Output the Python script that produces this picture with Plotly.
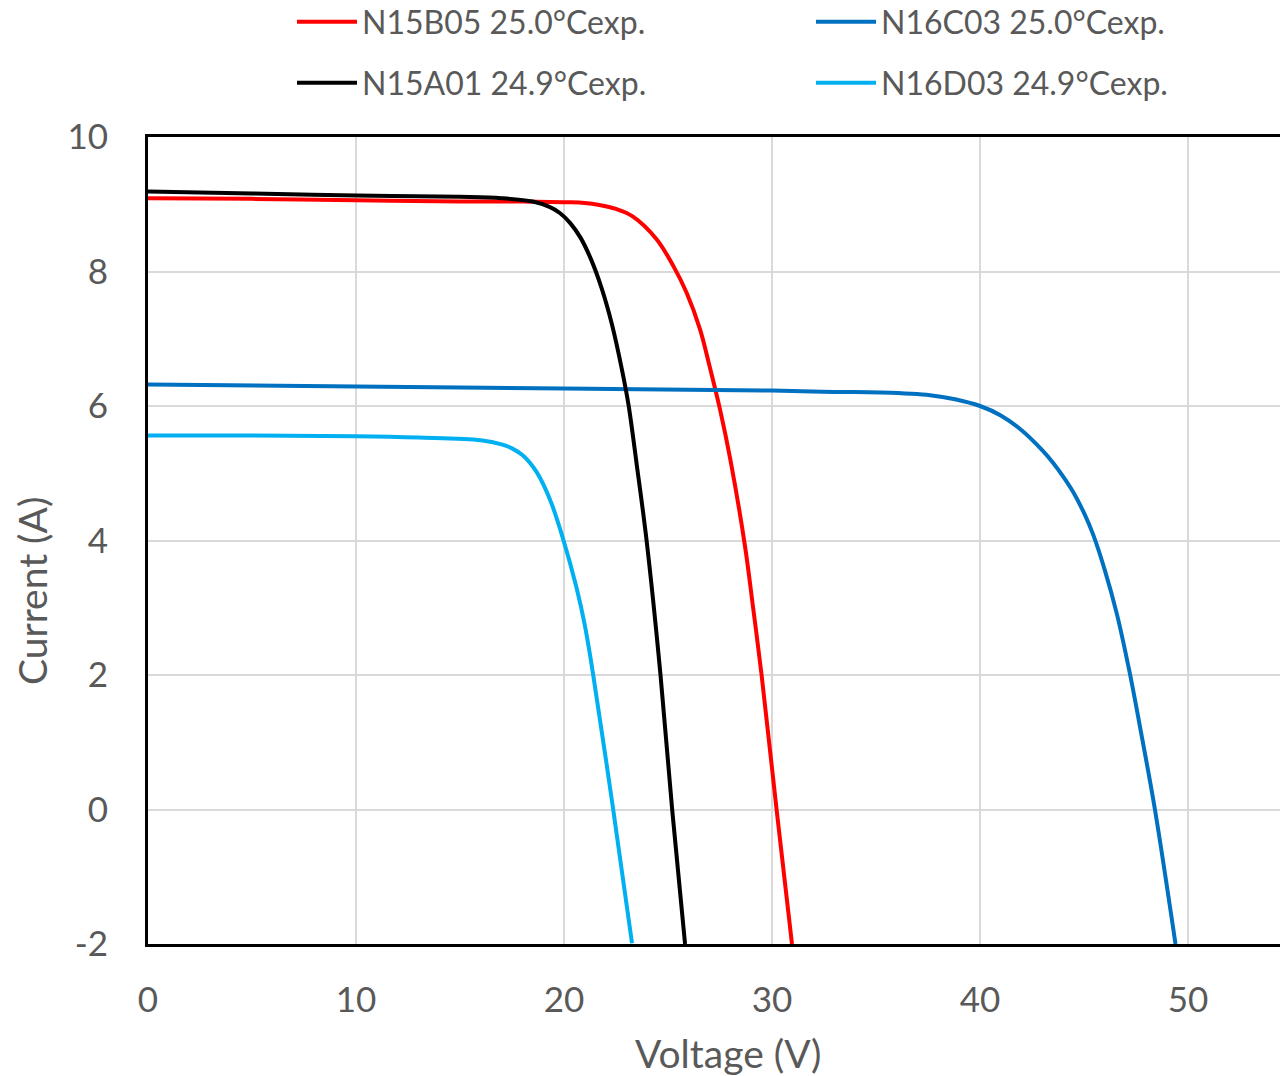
import plotly.graph_objects as go

# ---- data ----
v_n15b05 = [0, 5, 10, 15, 18, 20, 21, 21.7, 22.5, 23.3, 24.45, 25.26, 25.9, 26.54, 27.0, 27.5, 28.0, 28.7, 29.1, 29.5, 30.22, 30.96]
i_n15b05 = [9.09, 9.08, 9.06, 9.04, 9.04, 9.03, 9.02, 8.99, 8.93, 8.82, 8.48, 8.08, 7.68, 7.14, 6.59, 5.95, 5.20, 3.92, 2.98, 2.0, 0.0, -2.0]

v_n15a01 = [0, 5, 10, 15, 17, 18.5, 19.3, 19.8, 20.3, 20.8, 21.3, 21.8, 22.3, 22.8, 23.1, 23.5, 23.97, 24.64, 25.2, 25.82]
i_n15a01 = [9.19, 9.16, 9.13, 9.11, 9.09, 9.04, 8.96, 8.87, 8.72, 8.50, 8.18, 7.76, 7.22, 6.52, 6.02, 5.12, 4.0, 2.0, 0.0, -2.0]

v_n16c03 = [0, 10, 20, 30, 33, 35.2, 37.6, 38.8, 40.0, 41.0, 42.0, 43.0, 43.5, 44.0, 44.5, 45.0, 45.45, 46.0, 46.57, 47.18, 47.8, 48.41, 49.4]
i_n16c03 = [6.32, 6.29, 6.26, 6.23, 6.21, 6.2, 6.16, 6.10, 6.0, 5.86, 5.64, 5.34, 5.16, 4.95, 4.71, 4.41, 4.08, 3.56, 2.92, 2.06, 1.05, 0.0, -2.0]

v_n16d03 = [0, 5, 10, 13, 16, 17, 17.5, 18.0, 18.5, 18.85, 19.4, 19.97, 20.6, 21.0, 21.4, 22.36, 23.27]
i_n16d03 = [5.56, 5.56, 5.55, 5.53, 5.49, 5.43, 5.37, 5.27, 5.10, 4.93, 4.55, 4.01, 3.30, 2.74, 2.01, 0.01, -1.99]

names = ["N15B05 25.0°Cexp.", "N16C03 25.0°Cexp.", "N15A01 24.9°Cexp.", "N16D03 24.9°Cexp."]
colors = ["#ff0000", "#0070c0", "#000000", "#00b0f0"]
series_v = [v_n15b05, v_n16c03, v_n15a01, v_n16d03]
series_i = [i_n15b05, i_n16c03, i_n15a01, i_n16d03]
legend_ids = ["legend", "legend", "legend2", "legend2"]

x_ticks = [0, 10, 20, 30, 40, 50]
y_ticks = [-2, 0, 2, 4, 6, 8, 10]
y_ticktext = ["-2", "0", "2", "4", "6", "8", "10"]
x_title = "Voltage (V)"
y_title = "Current (A)"

FONT = "Lato"
GREY = "#595959"

W, H = 1280, 1076
ML, MR, MT, MB = 148, 0, 137, 132
PW, PH = W - ML - MR, H - MT - MB

fig = go.Figure()
for v, i, n, c, lg in zip(series_v, series_i, names, colors, legend_ids):
    fig.add_trace(go.Scatter(
        x=v, y=i, name=n, mode="lines",
        line=dict(color=c, width=4, shape="spline", smoothing=1.0),
        legend=lg,
    ))

leg_common = dict(
    orientation="h", xref="container", yref="container",
    xanchor="left", yanchor="middle",
    font=dict(family=FONT, size=32, color=GREY),
    itemwidth=60, entrywidth=444, bgcolor="rgba(0,0,0,0)",
)

fig.update_layout(
    width=W, height=H,
    margin=dict(l=ML, r=MR, t=MT, b=MB),
    paper_bgcolor="white", plot_bgcolor="white",
    font=dict(family=FONT, color=GREY),
    showlegend=True,
    legend=dict(x=292 / W, y=1 - 22 / H, **leg_common),
    legend2=dict(x=292 / W, y=1 - 83 / H, **leg_common),
    xaxis=dict(
        range=[0, PW / 20.8],
        tickvals=x_ticks,
        showgrid=True, gridcolor="#d9d9d9", gridwidth=2,
        zeroline=False,
        showline=True, linecolor="black", linewidth=3, mirror=True,
        ticks="", ticklabelstandoff=23,
        tickfont=dict(family=FONT, size=35, color=GREY),
    ),
    yaxis=dict(
        range=[-2, 10],
        tickvals=y_ticks, ticktext=y_ticktext,
        showgrid=True, gridcolor="#d9d9d9", gridwidth=2,
        zeroline=False,
        showline=True, linecolor="black", linewidth=3,
        ticks="", ticklabelstandoff=30,
        tickfont=dict(family=FONT, size=35, color=GREY),
    ),
    annotations=[
        dict(text=x_title, xref="paper", yref="paper",
             x=(728 - ML) / PW, y=-(1053 - MT - PH) / PH,
             xanchor="center", yanchor="middle", showarrow=False,
             font=dict(family=FONT, size=39, color=GREY)),
        dict(text=y_title, xref="paper", yref="paper", textangle=-90,
             x=(32 - ML) / PW, y=1 - (591 - MT) / PH,
             xanchor="center", yanchor="middle", showarrow=False,
             font=dict(family=FONT, size=39, color=GREY)),
    ],
)

fig.write_html("out.html", config={"displayModeBar": False},
               post_script="document.body.style.margin='0px';")
